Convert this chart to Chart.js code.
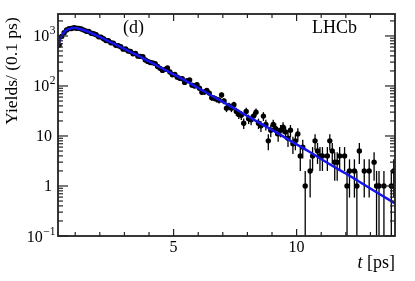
<!DOCTYPE html>
<html>
<head>
<meta charset="utf-8">
<script src="https://cdn.jsdelivr.net/npm/chart.js@4"></script>
<style>
  html, body { margin:0; padding:0; background:#fff }
  #c { display:block }
</style>
</head>
<body>
<canvas id="c" width="415" height="281"></canvas>
<script>
// bin centres (0.1 ps bins)
const binT = [
  0.35,0.45,0.55,0.65,0.75,0.85,0.95,1.05,1.15,1.25,
  1.35,1.45,1.55,1.65,1.75,1.85,1.95,2.05,2.15,2.25,
  2.35,2.45,2.55,2.65,2.75,2.85,2.95,3.05,3.15,3.25,
  3.35,3.45,3.55,3.65,3.75,3.85,3.95,4.05,4.15,4.25,
  4.35,4.45,4.55,4.65,4.75,4.85,4.95,5.05,5.15,5.25,
  5.35,5.45,5.55,5.65,5.75,5.85,5.95,6.05,6.15,6.25,
  6.35,6.45,6.55,6.65,6.75,6.85,6.95,7.05,7.15,7.25,
  7.35,7.45,7.55,7.65,7.75,7.85,7.95,8.05,8.15,8.25,
  8.35,8.45,8.55,8.65,8.75,8.85,8.95,9.05,9.15,9.25,
  9.35,9.45,9.55,9.65,9.75,9.85,9.95,10.05,10.15,10.25,
  10.35,10.45,10.55,10.65,10.75,10.85,10.95,11.05,11.15,11.25,
  11.35,11.45,11.55,11.65,11.75,11.85,11.95,12.05,12.15,12.25,
  12.35,12.45,12.55,12.65,12.75,12.85,12.95,13.05,13.15,13.25,
  13.35,13.45,13.55,13.65,13.75,13.85,13.95
]
// yields per bin (null = empty bin)
const yields = [
  660,980,1160,1320,1400,1410,1460,1430,1420,1380,
  1310,1240,1230,1130,1110,1060,960,950,880,810,
  800,730,720,650,640,610,545,550,500,490,
  440,445,395,390,385,330,310,295,290,280,
  245,225,205,215,230,190,168,170,150,142,
  140,118,128,132,104,100,106,90,75,76,
  81,72,58,57,54,52,66,50,36,40,
  36,42,31,27,26,18,31,22,21,25,
  30,18,16,25,17,8,13,17,14,11,
  13,15,12,9,13,7,8,11,4,6,
  1,null,2,4,8,5,4,4,null,4,
  8,5,3,3,4,null,4,1,2,null,
  2,1,5,null,2,null,2,null,3,1,
  1,null,1,null,null,1,2
]
// fit curve
const fitT = [0.3,0.4,0.5,0.6,0.7,0.8,0.9,1.0,1.2,1.5,2.0,2.5,3.0,3.5,4.0,4.5,5.0,5.5,6.0,6.5,7.0,7.5,8.0,8.5,9.0,9.5,10.0,10.5,11.0,11.5,12.0,12.5,13.0,13.5,14.0]
const fitV = [620,880,1096,1259,1349,1413,1445,1445,1380,1230,955,724,550,417,309,229,170,126,91,66,48,35,25,18.2,13.2,9.5,6.8,4.9,3.47,2.45,1.78,1.26,0.89,0.63,0.45]

const xTickVals = [5, 10]
const xTickLabels = ['5', '10']
const yTickVals = [0.1, 1, 10, 100, 1000]
const yTickLabels = [['10','\u22121'], ['1',''], ['10',''], ['10','2'], ['10','3']]

const SERIF = '"Liberation Serif", "Times New Roman", serif'

const dataPts = binT.map((t,i) => ({ x: t, y: yields[i] })).filter(p => p.y != null)
const fitPts = fitT.map((t,i) => ({ x: t, y: fitV[i] }))

const errorBars = {
  id: 'errorBars',
  beforeDatasetsDraw(chart) {
    const { ctx, chartArea: a, scales: { x, y } } = chart
    ctx.save()
    ctx.beginPath(); ctx.rect(a.left, a.top, a.right - a.left, a.bottom - a.top); ctx.clip()
    ctx.strokeStyle = '#000'; ctx.lineWidth = 1.3
    chart.data.datasets[1].data.forEach(p => {
      const e = Math.sqrt(p.y)
      const lo = p.y - e > 0 ? y.getPixelForValue(p.y - e) : a.bottom
      const hi = y.getPixelForValue(p.y + e)
      const px = x.getPixelForValue(p.x)
      ctx.beginPath(); ctx.moveTo(px, lo); ctx.lineTo(px, hi); ctx.stroke()
    })
    ctx.restore()
  }
}

const frame = {
  id: 'frame',
  afterDraw(chart) {
    const { ctx, chartArea: a, scales: { x, y } } = chart
    const line = (x1,y1,x2,y2) => { ctx.beginPath(); ctx.moveTo(x1,y1); ctx.lineTo(x2,y2); ctx.stroke() }
    ctx.save()
    ctx.strokeStyle = '#222'
    ctx.lineWidth = 1.2
    // x ticks, bottom and top
    for (let t = 1; t < 14; t++) {
      const px = x.getPixelForValue(t)
      const len = xTickVals.includes(t) ? 7 : 4
      line(px, a.bottom, px, a.bottom - len)
      line(px, a.top, px, a.top + len)
    }
    // y ticks, left and right
    for (let e = -1; e <= 3; e++) for (let m = 1; m <= 9; m++) {
      const v = m * Math.pow(10, e)
      if (v > y.max || v < y.min) continue
      const py = y.getPixelForValue(v)
      const len = m === 1 ? 10 : 5
      line(a.left, py, a.left + len, py)
      line(a.right, py, a.right - len, py)
    }
    ctx.lineWidth = 1.8
    ctx.strokeRect(a.left, a.top, a.right - a.left, a.bottom - a.top)

    // tick labels
    ctx.fillStyle = '#000'
    ctx.textBaseline = 'alphabetic'
    ctx.textAlign = 'center'
    ctx.font = `16px ${SERIF}`
    xTickVals.forEach((v,i) => ctx.fillText(xTickLabels[i], x.getPixelForValue(v), 252))

    ctx.textAlign = 'left'
    yTickVals.forEach((v,i) => {
      const [base, sup] = yTickLabels[i]
      const py = y.getPixelForValue(v)
      ctx.font = `16px ${SERIF}`
      const wb = ctx.measureText(base).width
      ctx.font = `11.5px ${SERIF}`
      const ws = sup ? ctx.measureText(sup).width : 0
      const right = sup ? 55 : 52
      const x0 = right - wb - ws
      ctx.font = `16px ${SERIF}`
      ctx.fillText(base, x0, py + 5.5)
      if (sup) { ctx.font = `11.5px ${SERIF}`; ctx.fillText(sup, x0 + wb + 0.5, py - 1.5) }
    })

    // axis titles
    ctx.save()
    ctx.translate(17, 71)
    ctx.rotate(-Math.PI / 2)
    ctx.textAlign = 'center'
    ctx.font = `17.5px ${SERIF}`
    ctx.fillText('Yields/ (0.1 ps)', 0, 0)
    ctx.restore()

    ctx.textAlign = 'left'
    ctx.font = `18px ${SERIF}`
    const wRest = ctx.measureText(' [ps]').width
    ctx.font = `italic 18px ${SERIF}`
    const wT = ctx.measureText('t').width
    const xs = 395 - wRest - wT
    ctx.fillText('t', xs, 268)
    ctx.font = `18px ${SERIF}`
    ctx.fillText(' [ps]', xs + wT, 268)

    // panel labels
    ctx.fillText('(d)', 123, 33)
    ctx.fillText('LHCb', 312, 33)
    ctx.restore()
  }
}

new Chart(document.getElementById('c'), {
  type: 'scatter',
  data: {
    datasets: [
      { type: 'line', data: fitPts, borderColor: 'rgb(20,20,235)', borderWidth: 2.5, pointRadius: 0,
        fill: false, cubicInterpolationMode: 'monotone', order: 0 },
      { data: dataPts, pointRadius: 2.7, backgroundColor: '#000', borderWidth: 0, order: 1 }
    ]
  },
  options: {
    responsive: false, animation: false, devicePixelRatio: 1,
    layout: { padding: { top: 14, right: 20, left: 0, bottom: 0 } },
    plugins: { legend: { display: false }, tooltip: { enabled: false } },
    scales: {
      x: { type: 'linear', min: 0.3, max: 14, ticks: { display: false }, grid: { display: false },
           border: { display: false }, afterFit: s => { s.height = 45 } },
      y: { type: 'logarithmic', min: 0.1, max: 2750, ticks: { display: false }, grid: { display: false },
           border: { display: false }, afterFit: s => { s.width = 58 } }
    }
  },
  plugins: [errorBars, frame]
})
</script>
</body>
</html>
